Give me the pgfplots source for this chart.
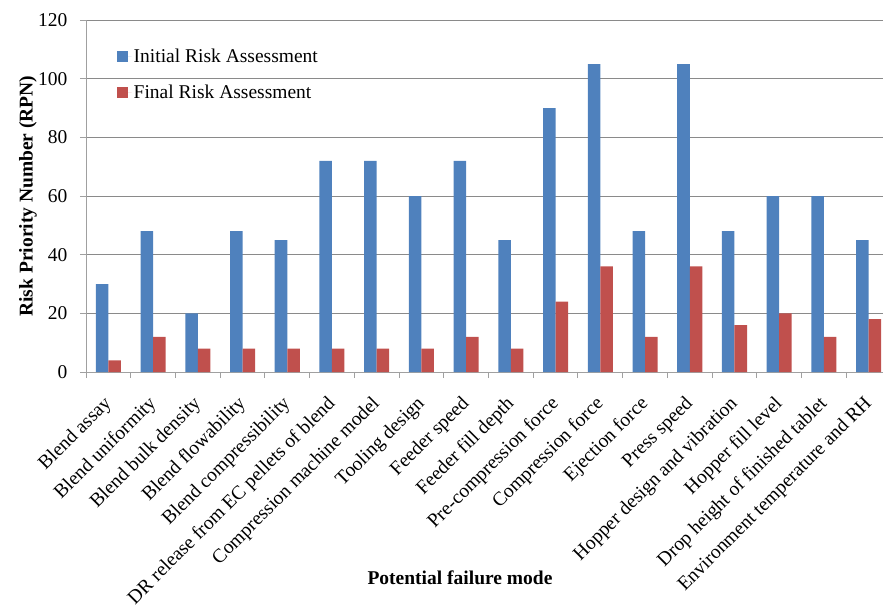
\documentclass[border=0pt]{standalone}
\usepackage{fontspec}
\setmainfont{Liberation Serif}
\usepackage{pgfplots}
\pgfplotsset{compat=1.18}
\definecolor{initblue}{HTML}{4F81BD}
\definecolor{finalred}{HTML}{C0504D}
\definecolor{gridgray}{RGB}{138,138,138}
\definecolor{axisgray}{RGB}{160,160,160}
\newcommand{\chartfont}{\fontsize{19.5bp}{23bp}\selectfont}
\begin{document}
\begin{tikzpicture}
\begin{axis}[
  scale only axis,
  width=805bp, height=352bp,
  ybar=0pt, bar width=0.28,
  xmin=-0.5, xmax=17.5, ymin=0, ymax=120,
  enlargelimits=false,
  axis x line*=bottom, axis y line*=left,
  axis line style={draw=axisgray, line width=0.9bp},
  ytick={0,20,...,120},
  ymajorgrids, major grid style={draw=gridgray, line width=0.9bp},
  tick align=outside,
  major tick length=6bp, minor tick length=6bp,
  tick style={draw=axisgray, line width=0.9bp},
  major x tick style={draw=none},
  xtick={0,...,17},
  minor xtick={-0.5,0.5,...,17.5},
  xticklabels={Blend assay, Blend uniformity, Blend bulk density, Blend flowability,
    Blend compressibility, DR release from EC pellets of blend,
    Compression machine model, Tooling design, Feeder speed, Feeder fill depth,
    Pre-compression force, Compression force, Ejection force, Press speed,
    Hopper design and vibration, Hopper fill level, Drop height of finished tablet,
    Environment temperature and RH},
  xticklabel style={rotate=45, anchor=north east, font=\chartfont, inner sep=1bp, xshift=-14.8bp, yshift=-6.4bp},
  yticklabel style={font=\chartfont, xshift=-9bp},
  /pgf/number format/assume math mode=true,
  ylabel={\textbf{Risk Priority Number (RPN)}},
  ylabel style={font=\chartfont, at={(axis description cs:-0.072,0.5)}, anchor=center},
  xlabel={\textbf{Potential failure mode}},
  xlabel style={font=\chartfont, at={(axis description cs:0.4646,-0.585)}, anchor=center},
  legend style={draw=none, fill=none, font=\chartfont, at={(axis description cs:0.0385,0.925)},
    anchor=north west, row sep=17bp, inner sep=0pt},
  legend cell align=left,
  legend image code/.code={\path (0bp,0bp) -- (14.5bp,0bp);\fill[#1] (0bp,-5.5bp) rectangle (11bp,5.5bp);},
]
\addplot[fill=initblue, draw=none] coordinates {
  (0,30) (1,48) (2,20) (3,48) (4,45) (5,72) (6,72) (7,60) (8,72)
  (9,45) (10,90) (11,105) (12,48) (13,105) (14,48) (15,60) (16,60) (17,45)};
\addplot[fill=finalred, draw=none] coordinates {
  (0,4) (1,12) (2,8) (3,8) (4,8) (5,8) (6,8) (7,8) (8,12)
  (9,8) (10,24) (11,36) (12,12) (13,36) (14,16) (15,20) (16,12) (17,18)};
\legend{Initial Risk Assessment, Final Risk Assessment}
\end{axis}
\pgfresetboundingbox
\path[use as bounding box] (-86bp,-234bp) rectangle (797bp,372bp);
\end{tikzpicture}
\end{document}
